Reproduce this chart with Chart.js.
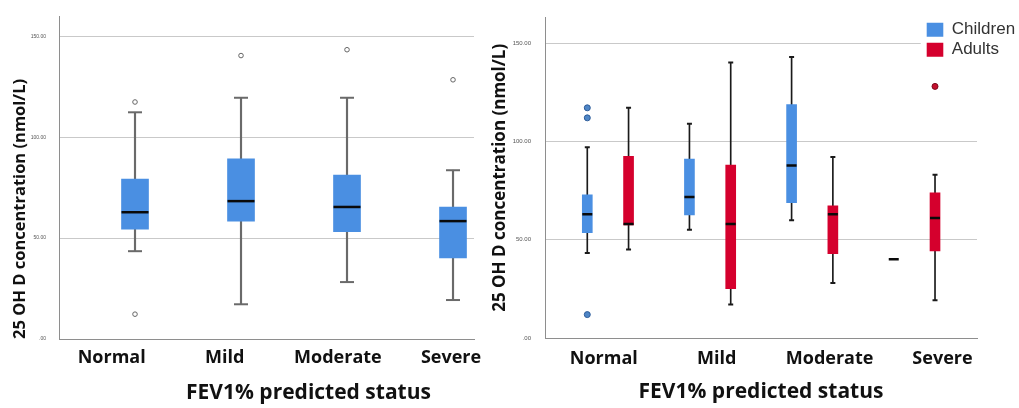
<!DOCTYPE html>
<html><head><meta charset="utf-8">
<script src="https://cdn.jsdelivr.net/npm/chart.js@4.4.1/dist/chart.umd.min.js"></script>
<style>
html,body{margin:0;padding:0;background:#fff;width:1019px;height:408px;overflow:hidden}
canvas{position:absolute;top:0}
#c1{left:0}
#c2{left:470px}
</style></head><body>
<canvas id="c1" width="500" height="408"></canvas>
<canvas id="c2" width="549" height="408"></canvas>
<script>
// ---------- data ----------
const categories = ['Normal', 'Mild', 'Moderate', 'Severe'];
const yTickValues = [0, 50, 100, 150];
const xTitle = 'FEV1% predicted status';
const yTitle = '25 OH D concentration (nmol/L)';
const seriesNames = ['Children', 'Adults'];

// left panel: all patients
const allMin = [43.5, 17.2, 28.2, 19.3];
const allQ1 = [54.4, 58.4, 53.2, 40.2];
const allMedian = [62.8, 68.3, 65.4, 58.4];
const allQ3 = [79.2, 89.3, 81.2, 65.3];
const allMax = [112.3, 119.5, 119.5, 83.6];
const allOutliers = [[117.4, 12.3], [140.4], [143.3], [128.4]];

// right panel: children
const childMin = [43.2, 55.1, 59.9, null];
const childQ1 = [53.6, 62.6, 68.9, null];
const childMedian = [63.0, 71.7, 87.7, 40.1];
const childQ3 = [72.8, 91.0, 118.8, null];
const childMax = [97.0, 109.0, 143.0, null];
const childOutliers = [[117.1, 112.0, 11.9], [], [], []];

// right panel: adults
const adultMin = [45.0, 17.0, 28.0, 19.2];
const adultQ1 = [57.5, 25.1, 42.9, 44.3];
const adultMedian = [58.0, 58.0, 63.0, 61.1];
const adultQ3 = [92.4, 88.0, 67.3, 73.8];
const adultMax = [117.1, 140.1, 92.1, 83.1];
const adultOutliers = [[], [], [], [128.0]];

// ---------- helpers ----------
function boxplotSets(s, st, shift) {
  const xs = categories.map((_, i) => i + 1 + shift);
  const pts = arr => arr.map((v, i) => v == null ? null : { x: xs[i], y: v }).filter(Boolean);
  const range = (lo, hi) => lo.map((v, i) => (v == null || hi[i] == null) ? null : { x: xs[i], y: [v, hi[i]] }).filter(Boolean);
  return [
    { type: 'bar', label: s.label, data: range(s.q1, s.q3), backgroundColor: st.fill, borderWidth: 0, barThickness: st.boxW, order: 3 },
    { type: 'bar', label: '', data: range(s.min, s.max), backgroundColor: st.whisker, borderWidth: 0, barThickness: st.whiskerW, order: 4 },
    { type: 'line', label: '', data: pts(s.min).concat(pts(s.max)), showLine: false, pointStyle: 'line',
      pointRadius: st.capR, pointHoverRadius: st.capR, pointBorderWidth: st.capLW, pointBorderColor: st.whisker, order: 2 },
    { type: 'line', label: '', data: pts(s.median), showLine: false, pointStyle: 'line',
      pointRadius: st.boxW / 2, pointHoverRadius: st.boxW / 2, pointBorderWidth: 2.5, pointBorderColor: '#0a0a0a', order: 1 },
    { type: 'line', label: '', data: s.outliers.flatMap((arr, i) => arr.map(v => ({ x: xs[i], y: v }))), showLine: false,
      pointStyle: 'circle', pointRadius: st.outR, pointHoverRadius: st.outR, pointBackgroundColor: st.outFill,
      pointBorderColor: st.outStroke, pointBorderWidth: 1, order: 0 }
  ];
}

const legendPlacer = {
  id: 'legendPlacer',
  afterLayout(chart, args, o) {
    if (!o || o.left == null || !chart.legend) return;
    const lg = chart.legend;
    const w = lg.width, h = lg.height;
    lg.left = o.left; lg.top = o.top; lg.right = o.left + w; lg.bottom = o.top + h;
  },
  beforeDatasetsDraw(chart, args, o) {
    if (!o || o.left == null || !chart.legend) return;
    const lg = chart.legend;
    const colH = (lg.columnSizes && lg.columnSizes[0]) ? lg.columnSizes[0].height : 40;
    const ctx = chart.ctx;
    ctx.save();
    ctx.fillStyle = '#ffffff';
    ctx.fillRect(lg.left - 3, lg.top, chart.width - lg.left + 3, colH + 6);
    ctx.restore();
    lg.draw();
  }
};

function makeOptions(c) {
  return {
    responsive: false, animation: false, events: [],
    layout: { padding: { left: 0, top: c.padTop, right: c.padRight, bottom: 0 } },
    datasets: { bar: { grouped: false } },
    plugins: {
      tooltip: { enabled: false },
      legend: c.legend,
      legendPlacer: c.legendPos || {}
    },
    scales: {
      x: {
        type: 'linear', min: c.xMin, max: c.xMax, offset: false,
        grid: { display: false, drawTicks: false, offset: false },
        border: { display: true, color: '#8e8e8e', width: 1 },
        afterBuildTicks: scale => { scale.ticks = categories.map((_, i) => ({ value: c.labelStart + i * c.labelStep })); },
        afterFit: scale => { scale.height = c.xAxisH; },
        ticks: { autoSkip: false, maxRotation: 0, minRotation: 0, padding: c.xTickPad, color: '#111',
          font: { family: 'Open Sans', weight: 'bold', size: 18, lineHeight: 1.2 },
          callback: (v, i) => categories[i] },
        title: { display: true, text: c.xTitleText, color: '#111',
          font: { family: 'Open Sans', weight: 'bold', size: 21, lineHeight: 1.2 },
          padding: { top: 0, bottom: c.xTitlePad } }
      },
      y: {
        min: 0, max: c.yMax,
        grid: { color: '#c9c9c9', lineWidth: 1, drawTicks: false },
        border: { display: true, color: '#8e8e8e', width: 1 },
        afterBuildTicks: scale => { scale.ticks = yTickValues.map(v => ({ value: v })); },
        afterFit: scale => { scale.width = c.yAxisW; },
        ticks: { padding: c.yTickPad, color: '#555', font: { family: 'Liberation Sans', size: c.yTickSize },
          callback: v => v === 0 ? '.00' : Number(v).toFixed(2) },
        title: { display: true, text: yTitle, align: c.yTitleAlign, color: '#111',
          font: { family: 'Open Sans', weight: 'bold', size: c.yTitleSize, lineHeight: 1.2 },
          padding: { top: c.yTitlePad, bottom: 0 } }
      }
    }
  };
}

// ---------- left chart ----------
const leftStyle = { fill: '#4a8fe2', whisker: '#6a6a6a', whiskerW: 1.5, boxW: 27, capR: 7, capLW: 2,
  outR: 2.3, outFill: '#ffffff', outStroke: '#666666' };
new Chart(document.getElementById('c1'), {
  type: 'bar',
  data: { datasets: boxplotSets({ label: '', min: allMin, q1: allQ1, median: allMedian, q3: allQ3, max: allMax, outliers: allOutliers }, leftStyle, 0) },
  options: makeOptions({
    padTop: 10, padRight: 26, xMin: 0.283, xMax: 4.198, labelStart: 0.78, labelStep: 1.067,
    xAxisH: 69, xTickPad: 8, xTitlePad: 2.5, xTitleText: '\u2002\u2002\u2002\u2002\u2002\u2002\u2002\u2002' + xTitle,
    yMax: 160, yAxisW: 59, yTickPad: 13, yTickSize: 5, yTitleAlign: 'start', yTitleSize: 16.5, yTitlePad: 10,
    legend: { display: false }
  }),
  plugins: [legendPlacer]
});

// ---------- right chart ----------
const childStyle = { fill: '#4a8fe2', whisker: '#1a1a1a', whiskerW: 1, boxW: 10, capR: 2.5, capLW: 2,
  outR: 3, outFill: '#4f86c6', outStroke: '#2d5c99' };
const adultStyle = { fill: '#d5002d', whisker: '#1a1a1a', whiskerW: 1, boxW: 10, capR: 2.5, capLW: 2,
  outR: 3, outFill: '#c4102e', outStroke: '#7d0a1c' };
new Chart(document.getElementById('c2'), {
  type: 'bar',
  data: { datasets: [
    ...boxplotSets({ label: seriesNames[0], min: childMin, q1: childQ1, median: childMedian, q3: childQ3, max: childMax, outliers: childOutliers }, childStyle, -0.202),
    ...boxplotSets({ label: seriesNames[1], min: adultMin, q1: adultQ1, median: adultMedian, q3: adultQ3, max: adultMax, outliers: adultOutliers }, adultStyle, 0.202)
  ] },
  options: makeOptions({
    padTop: 8, padRight: 42, xMin: 0.384, xMax: 4.613, labelStart: 0.96, labelStep: 1.105,
    xAxisH: 70, xTickPad: 10.5, xTitlePad: 3, xTitleText: xTitle,
    yMax: 163, yAxisW: 75, yTickPad: 14, yTickSize: 6, yTitleAlign: 'center', yTitleSize: 17, yTitlePad: 20,
    legend: { display: true, position: 'chartArea', align: 'start',
      labels: { boxWidth: 16.6, boxHeight: 14, padding: 3, color: '#333',
        font: { family: 'Liberation Sans', size: 17 }, filter: item => !!item.text } },
    legendPos: { left: 453.7, top: 18.2 }
  }),
  plugins: [legendPlacer]
});
</script>
</body></html>
